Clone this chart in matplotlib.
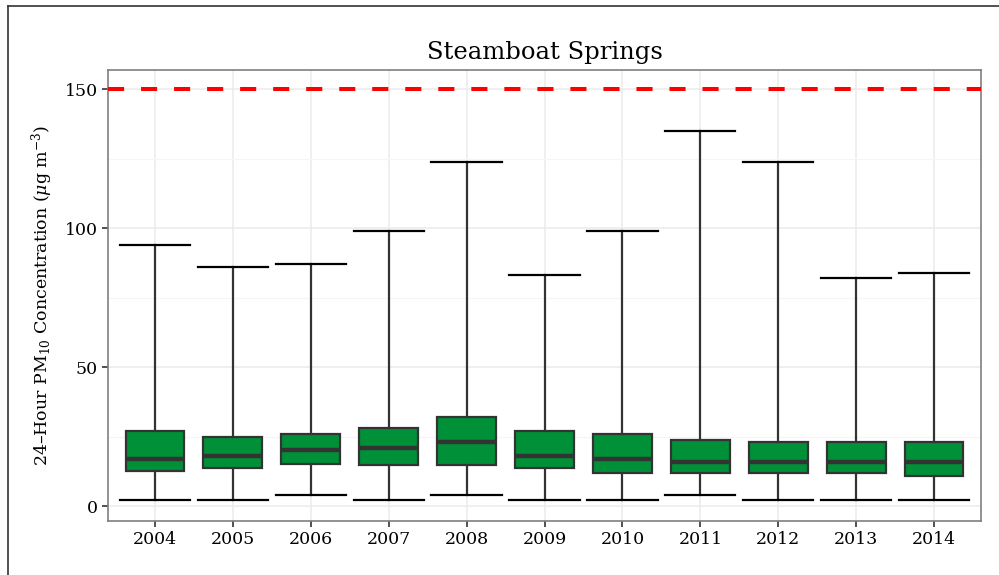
import numpy as np
import matplotlib.pyplot as plt
from matplotlib.lines import Line2D

years = ['2004', '2005', '2006', '2007', '2008', '2009', '2010', '2011', '2012', '2013', '2014']
lower = [2, 2, 4, 2, 4, 2, 2, 4, 2, 2, 2]
q1 = [12.5, 13.8, 15, 14.8, 14.8, 13.8, 11.9, 11.9, 11.9, 12, 10.7]
median = [16.9, 18, 20, 21, 22.9, 17.9, 16.8, 15.9, 15.9, 15.8, 15.8]
q3 = [27, 25, 26, 28, 31.9, 27, 25.9, 23.9, 22.9, 23, 23]
upper = [94, 86, 87, 99, 124, 83, 99, 135, 124, 82, 84]
standard = 150

plt.rcParams['font.family'] = ['DejaVu Serif']
plt.rcParams['mathtext.fontset'] = 'dejavuserif'

fig = plt.figure(figsize=(9.99, 5.75), dpi=100)
ax = fig.add_axes([0.1081, 0.0939, 0.8739, 0.7844])

pos = np.arange(1, len(years) + 1)
stats = []
for i in range(len(years)):
    stats.append({'whislo': lower[i], 'q1': q1[i], 'med': median[i],
                  'q3': q3[i], 'whishi': upper[i], 'fliers': []})

ax.bxp(stats, positions=pos, widths=0.75, capwidths=0.9, patch_artist=True,
       showfliers=False,
       boxprops=dict(facecolor='#009138', edgecolor='#333333', linewidth=1.6),
       medianprops=dict(color='#333333', linewidth=3.2, solid_capstyle='butt'),
       whiskerprops=dict(color='#333333', linewidth=1.6),
       capprops=dict(color='black', linewidth=1.6))

ax.axhline(standard, color='red', linewidth=2.9, dashes=(4, 4.2), zorder=3)

ax.set_xlim(0.4, 11.6)
ax.set_ylim(-5.4, 157)
ax.set_xticks(pos)
ax.set_xticklabels(years)
ax.set_yticks([0, 50, 100, 150])
ax.set_yticks([25, 75, 125], minor=True)
ax.tick_params(axis='both', which='major', labelsize=12.5, length=4, width=1.2,
               color='#333333', labelcolor='black')
ax.tick_params(axis='y', which='minor', length=0)
ax.grid(True, which='major', color='#EBEBEB', linewidth=1.1, zorder=0)
ax.grid(True, which='minor', axis='y', color='#F5F5F5', linewidth=0.8, zorder=0)
ax.set_axisbelow(True)
for s in ax.spines.values():
    s.set_color('#7F7F7F')
    s.set_linewidth(1.2)

ax.set_title('Steamboat Springs', fontsize=17.5, pad=8)
ax.set_ylabel('24\u2013Hour PM$_{10}$ Concentration ($\\mu$g m$^{-3}$)', fontsize=12.5, labelpad=7)

# outer frame (cropped on right and bottom)
fig.add_artist(Line2D([8 / 999, 8 / 999], [0, 1 - 6 / 575], color='#333333', linewidth=1.2))
fig.add_artist(Line2D([8 / 999, 1], [1 - 6 / 575, 1 - 6 / 575], color='#333333', linewidth=1.2))

fig.savefig('out.png', dpi=100)
